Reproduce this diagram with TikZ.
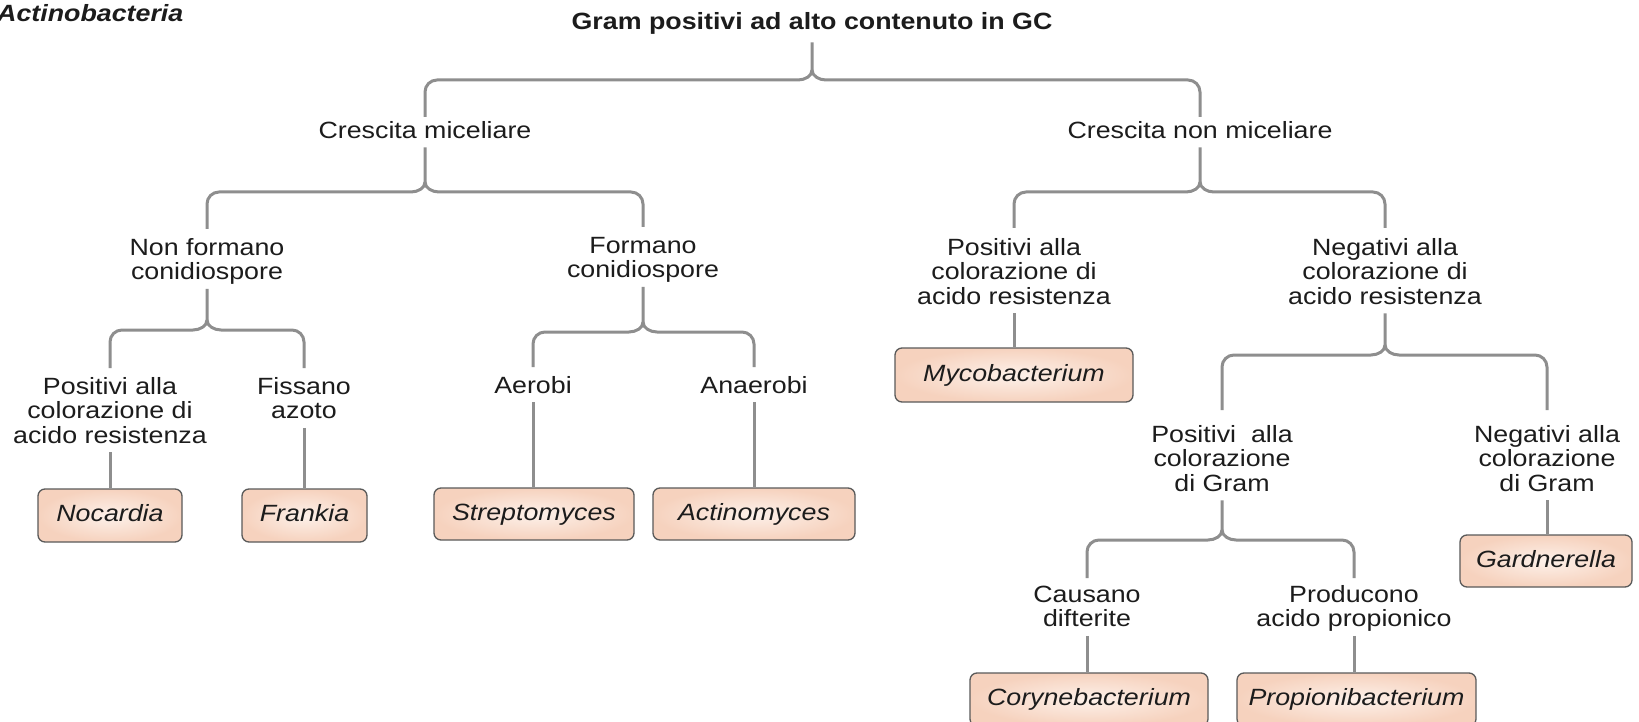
\documentclass[tikz,border=0pt]{standalone}
\usepackage{fontspec}
\setmainfont{Liberation Sans}[FakeStretch=1.14]
\usetikzlibrary{calc}
\definecolor{linegray}{HTML}{8E8E8E}
\definecolor{txt}{HTML}{1C1C1C}
\definecolor{boxin}{HTML}{FDF1EA}
\definecolor{boxout}{HTML}{F6D2BE}
\definecolor{boxline}{HTML}{5A5A5A}
\newcommand\Tst{\rule{0pt}{18pt}}
\newcommand\Bst{\rule[-6pt]{0pt}{6pt}}
% #1 parent, #2 left child, #3 right child, #4 y of bar, #5 stem gap, #6 child gap
\newcommand\forkdraw[6]{%
  \coordinate (fk-t) at ([yshift=-#5]#1.south);
  \coordinate (fk-k) at (fk-t |- 0,#4);
  \draw[conn] (fk-t) -- ([yshift=10pt]fk-k)
     .. controls ([yshift=4pt]fk-k) and ([xshift=-7pt]fk-k) .. ([xshift=-14pt]fk-k)
     [rounded corners=12pt] -- (#2.north |- fk-k) -- ([yshift=#6]#2.north);
  \draw[conn] ([yshift=10pt]fk-k)
     .. controls ([yshift=4pt]fk-k) and ([xshift=7pt]fk-k) .. ([xshift=14pt]fk-k)
     [rounded corners=12pt] -- (#3.north |- fk-k) -- ([yshift=#6]#3.north);
}
% #1 upper label, #2 box
\newcommand\dropdraw[2]{%
  \draw[conn] ([yshift=-3pt]#1.south) -- (#1.south |- #2.north);
}
\tikzset{
  conn/.style={draw=linegray, line width=3pt},
  lbl/.style={font=\fontsize{23.5}{24.5}\selectfont, text=txt, inner sep=0pt, align=center, anchor=north},
  genus/.style={draw=boxline, inner color=boxin, outer color=boxout, line width=1.3pt, rounded corners=7pt,
    font=\fontsize{23.5}{24.5}\selectfont\itshape, text=txt, inner sep=0pt,
    text height=17pt, text depth=5pt},
}
\begin{document}
\begin{tikzpicture}[x=1pt,y=-1pt]
\useasboundingbox (0,0) rectangle (1639,722);
\fill[white] (0,0) rectangle (1639,722);
\clip (0,0) rectangle (1639,722);

\node[font=\fontsize{23.5}{24.5}\selectfont\bfseries\itshape, text=txt, inner sep=0pt, anchor=base west] (phylum) at (-3,22) {Actinobacteria};
\node[lbl, font=\fontsize{23.5}{24.5}\selectfont\bfseries] (title) at (812,11) {\Tst Gram positivi ad alto contenuto in GC\Bst};

\node[lbl] (A1) at (425,120) {\Tst Crescita miceliare\Bst};
\node[lbl] (A2) at (1200,120) {\Tst Crescita non miceliare\Bst};

\node[lbl] (B1) at (207,237) {\Tst Non formano\\conidiospore\Bst};
\node[lbl] (B2) at (643,235) {\Tst Formano\\conidiospore\Bst};
\node[lbl] (B3) at (1014,237) {\Tst Positivi alla\\colorazione di\\acido resistenza\Bst};
\node[lbl] (B4) at (1385,237) {\Tst Negativi alla\\colorazione di\\acido resistenza\Bst};

\node[lbl] (C1) at (110,376) {\Tst Positivi alla\\colorazione di\\acido resistenza\Bst};
\node[lbl] (C2) at (304,376) {\Tst Fissano\\azoto\Bst};
\node[lbl] (C3) at (533,375) {\Tst Aerobi\Bst};
\node[lbl] (C4) at (754,375) {\Tst Anaerobi\Bst};

\node[lbl] (D1) at (1222,424) {\Tst Positivi\ \ alla\\colorazione\\di Gram\Bst};
\node[lbl] (D2) at (1547,424) {\Tst Negativi alla\\colorazione\\di Gram\Bst};

\node[lbl] (E1) at (1087,584) {\Tst Causano\\difterite\Bst};
\node[lbl] (E2) at (1354,584) {\Tst Producono\\acido propionico\Bst};

\node[genus, minimum width=144pt, minimum height=53pt] (noc) at (110,515.5) {Nocardia};
\node[genus, minimum width=125pt, minimum height=53pt] (fra) at (304.5,515.5) {Frankia};
\node[genus, minimum width=200pt, minimum height=52pt] (str) at (534,514) {Streptomyces};
\node[genus, minimum width=202pt, minimum height=52pt] (act) at (754,514) {Actinomyces};
\node[genus, minimum width=238pt, minimum height=54pt] (myc) at (1014,375) {Mycobacterium};
\node[genus, minimum width=172pt, minimum height=52pt] (gar) at (1546,561) {Gardnerella};
\node[genus, minimum width=238pt, minimum height=53pt] (cor) at (1089,699.5) {Corynebacterium};
\node[genus, minimum width=239pt, minimum height=53pt] (pro) at (1356.5,699.5) {Propionibacterium};

\forkdraw{title}{A1}{A2}{80}{7pt}{3pt}
\forkdraw{A1}{B1}{B2}{192}{3pt}{8pt}
\forkdraw{A2}{B3}{B4}{192}{3pt}{9pt}
\forkdraw{B1}{C1}{C2}{330}{3pt}{8pt}
\forkdraw{B2}{C3}{C4}{332}{3pt}{8pt}
\forkdraw{B4}{D1}{D2}{355}{3pt}{14pt}
\forkdraw{D1}{E1}{E2}{540}{3pt}{6pt}

\dropdraw{C1}{noc}
\dropdraw{C2}{fra}
\dropdraw{C3}{str}
\dropdraw{C4}{act}
\dropdraw{B3}{myc}
\dropdraw{D2}{gar}
\dropdraw{E1}{cor}
\dropdraw{E2}{pro}
\end{tikzpicture}
\end{document}
